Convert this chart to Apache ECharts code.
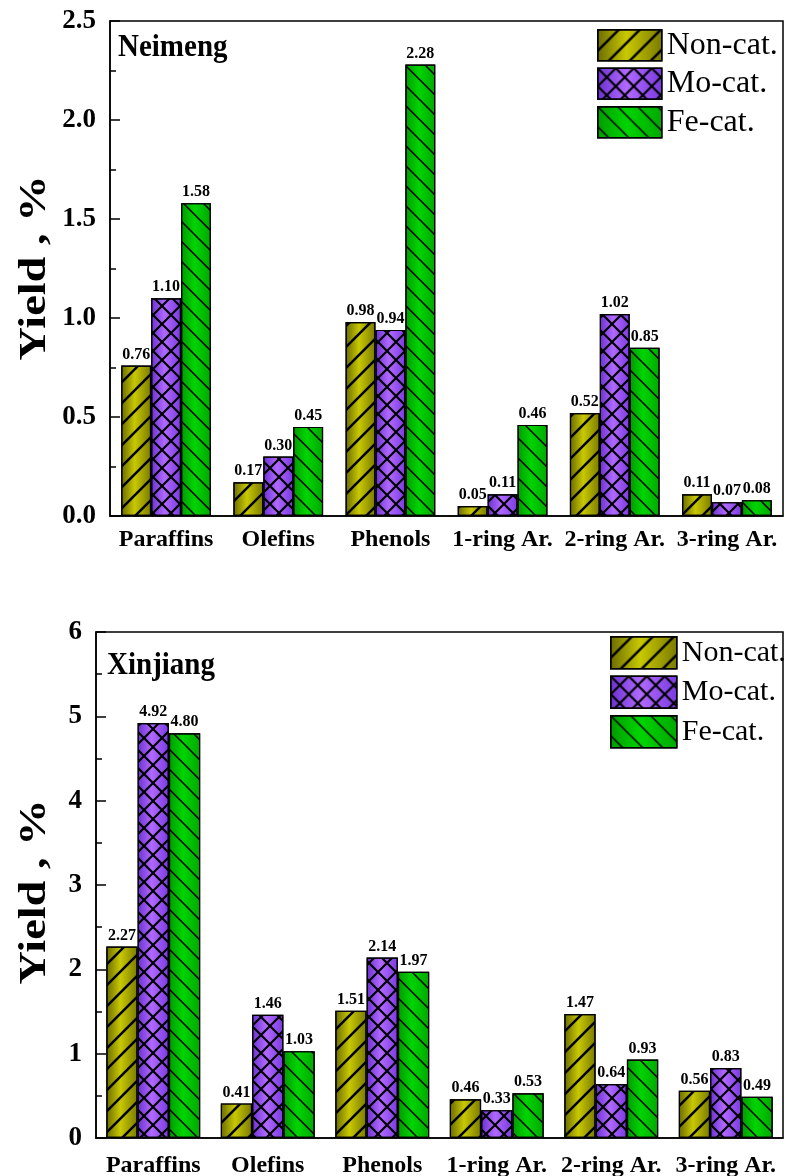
<!DOCTYPE html>
<html><head><meta charset="utf-8">
<script src="https://cdn.jsdelivr.net/npm/echarts@6/dist/echarts.min.js"></script>
<style>html,body{margin:0;padding:0;background:#fff}#c{width:788px;height:1176px}</style>
</head><body><div id="c"></div>
<script>
const categories = ['Paraffins', 'Olefins', 'Phenols', '1-ring Ar.', '2-ring Ar.', '3-ring Ar.'];
const seriesNames = ['Non-cat.', 'Mo-cat.', 'Fe-cat.'];
const neimengNon = [0.76, 0.17, 0.98, 0.05, 0.52, 0.11];
const neimengMo  = [1.10, 0.30, 0.94, 0.11, 1.02, 0.07];
const neimengFe  = [1.58, 0.45, 2.28, 0.46, 0.85, 0.08];
const xinjiangNon = [2.27, 0.41, 1.51, 0.46, 1.47, 0.56];
const xinjiangMo  = [4.92, 1.46, 2.14, 0.33, 0.64, 0.83];
const xinjiangFe  = [4.80, 1.03, 1.97, 0.53, 0.93, 0.49];
// [min, max, major interval, minor interval]
const neimengTicks = [0, 2.5, 0.5, 0.25];
const xinjiangTicks = [0, 6, 1, 0.5];

const SERIF = '"Times New Roman", "Liberation Serif", serif';

function P(pts) { return 'M' + pts.map(p => p[0] + ',' + p[1]).join(' L') + ' Z'; }
function slashPath(N, h) {
  return 'path://' + P([[N - h, 0], [N, 0], [N, h], [h, N], [0, N], [0, N - h]]) + ' ' +
    P([[0, 0], [h, 0], [0, h]]) + ' ' + P([[N, N], [N - h, N], [N, N - h]]);
}
function backPath(N, h) {
  return 'path://' + P([[0, 0], [h, 0], [N, N - h], [N, N], [N - h, N], [0, h]]) + ' ' +
    P([[N - h, 0], [N, 0], [N, h]]) + ' ' + P([[0, N - h], [0, N], [h, N]]);
}
function crossPath(N, h) {
  return 'path://' + P([[0, 0], [h, 0], [N, N - h], [N, N], [N - h, N], [0, h]]) + ' ' +
    P([[N - h, 0], [N, 0], [N, h], [h, N], [0, N], [0, N - h]]);
}
function decal(sym, cell) {
  return { symbol: sym, symbolSize: 1, dashArrayX: [cell, 0], dashArrayY: [cell, 0], color: '#000', rotation: 0 };
}
function grad(edge1, mid, edge2) {
  return { type: 'linear', x: 0, y: 0, x2: 1, y2: 0,
    colorStops: [{ offset: 0, color: edge1 }, { offset: 0.45, color: mid }, { offset: 1, color: edge2 }] };
}
const styles = [
  { color: grad('#6a6a00', '#c8c800', '#7a7a00'), decal: decal(slashPath(20, 1.7), 21) },
  { color: grad('#6a30d0', '#b068ff', '#7a3ae0'), decal: decal(crossPath(20, 1.7), 18) },
  { color: grad('#009a00', '#00d400', '#00a800'), decal: decal(backPath(20, 1.1), 20) }
];

function mkSeries(name, data, idx, si, gap) {
  return {
    type: 'bar', name: name, data: data, xAxisIndex: idx, yAxisIndex: idx,
    barGap: '0%', barCategoryGap: gap,
    itemStyle: { color: styles[si].color, decal: styles[si].decal, borderColor: '#000', borderWidth: 1.2 },
    label: { show: true, position: 'top', distance: 3, formatter: p => p.value.toFixed(2),
      fontFamily: SERIF, fontWeight: 'bold', fontSize: 16, color: '#000' }
  };
}
function mkX(idx, margin) {
  return { type: 'category', gridIndex: idx, data: categories,
    axisLine: { lineStyle: { color: '#000', width: 1.5 } }, axisTick: { show: false },
    axisLabel: { interval: 0, margin: margin, fontFamily: SERIF, fontWeight: 'bold', fontSize: 24, color: '#000' } };
}
function mkY(idx, ticks, dec) {
  return { type: 'value', gridIndex: idx, position: 'left', min: ticks[0], max: ticks[1], interval: ticks[2],
    axisLine: { show: true, lineStyle: { color: '#000', width: 1.5 } },
    axisTick: { show: true, inside: true, length: 10, lineStyle: { color: '#000', width: 1.5 } },
    splitLine: { show: false },
    axisLabel: { margin: 14, formatter: v => v.toFixed(dec), fontFamily: SERIF, fontWeight: 'bold', fontSize: 27, color: '#000' } };
}
function mkYMinor(idx, ticks) {
  return { type: 'value', gridIndex: idx, position: 'left', offset: 0, min: ticks[0], max: ticks[1], interval: ticks[3],
    axisLine: { show: false }, axisLabel: { show: false }, splitLine: { show: false },
    axisTick: { show: true, inside: true, length: 6, lineStyle: { color: '#000', width: 1.5 } } };
}
function mkLegend(left, top, w, h, gap, fs) {
  return { data: seriesNames, orient: 'vertical', left: left, top: top, padding: 0, itemWidth: w, itemHeight: h, itemGap: gap,
    selectedMode: false, icon: 'rect',
    itemStyle: { borderColor: '#000', borderWidth: 1.5 },
    textStyle: { fontFamily: SERIF, fontSize: fs, lineHeight: h, color: '#000' } };
}
function yName(x, y) {
  return { type: 'text', x: x, y: y, rotation: Math.PI / 2, scaleX: 1.22,
    style: { text: 'Yield , %', font: 'bold 38px ' + SERIF, fill: '#000',
      align: 'center', verticalAlign: 'middle', textAlign: 'center', textVerticalAlign: 'middle' } };
}

const chart = echarts.init(document.getElementById('c'), null, { renderer: 'canvas' });
chart.setOption({
  animation: false,
  backgroundColor: '#fff',
  grid: [
    { left: 110, right: 5, top: 21, height: 495, show: true, borderColor: '#000', borderWidth: 1.5, outerBoundsMode: 'none', containLabel: false },
    { left: 96, right: 5, top: 632, height: 506, show: true, borderColor: '#000', borderWidth: 1.5, outerBoundsMode: 'none', containLabel: false }
  ],
  xAxis: [mkX(0, 12), mkX(1, 16)],
  yAxis: [mkY(0, neimengTicks, 1), mkY(1, xinjiangTicks, 0), mkYMinor(0, neimengTicks), mkYMinor(1, xinjiangTicks)],
  legend: [mkLegend(597, 29, 64, 31, 6, 32), mkLegend(610, 636, 66, 32, 6, 30)],
  graphic: [
    { type: 'text', left: 118, top: 32, scaleY: 1.1, style: { text: 'Neimeng', font: 'bold 29px ' + SERIF, fill: '#000' } },
    { type: 'text', left: 107, top: 650, scaleY: 1.1, style: { text: 'Xinjiang', font: 'bold 29px ' + SERIF, fill: '#000' } },
    yName(35, 268),
    yName(35, 892)
  ],
  series: [
    mkSeries(seriesNames[0], neimengNon, 0, 0, '20%'),
    mkSeries(seriesNames[1], neimengMo, 0, 1, '20%'),
    mkSeries(seriesNames[2], neimengFe, 0, 2, '20%'),
    mkSeries(seriesNames[0], xinjiangNon, 1, 0, '18%'),
    mkSeries(seriesNames[1], xinjiangMo, 1, 1, '18%'),
    mkSeries(seriesNames[2], xinjiangFe, 1, 2, '18%')
  ]
});
</script></body></html>
